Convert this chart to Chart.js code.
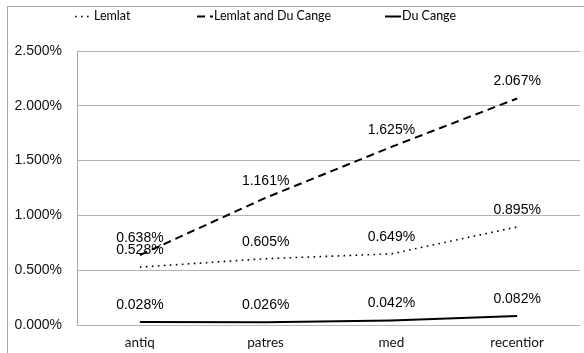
<!DOCTYPE html>
<html>
<head>
<meta charset="utf-8">
<script src="https://cdn.jsdelivr.net/npm/chart.js@4/dist/chart.umd.min.js"></script>
<style>
html,body{margin:0;padding:0;background:#fff;}
#wrap{width:584px;height:353px;position:relative;}
</style>
</head>
<body>
<div id="wrap"><canvas id="c" width="584" height="353"></canvas></div>
<script>
const categories = ["antiq", "patres", "med", "recentior"];
const lemlat = [0.528, 0.605, 0.649, 0.895];
const lemlatDuCange = [0.638, 1.161, 1.625, 2.067];
const duCange = [0.028, 0.026, 0.042, 0.082];
const seriesNames = ["Lemlat", "Lemlat and Du Cange", "Du Cange"];
const yTicks = [0, 0.5, 1.0, 1.5, 2.0, 2.5];

const labelFont = '14px "Liberation Sans", Arial, sans-serif';
const calFont = '12.5px Lato, "Open Sans", sans-serif';

const frame = {
  id: 'frame',
  beforeDraw(chart) {
    const ctx = chart.ctx;
    ctx.save();
    ctx.fillStyle = '#fff';
    ctx.fillRect(0, 0, chart.width, chart.height);
    ctx.strokeStyle = '#a6a6a6';
    ctx.lineWidth = 1;
    ctx.strokeRect(7.5, 6.5, 700, 500);
    ctx.restore();
  }
};

const valueLabels = {
  id: 'valueLabels',
  afterDatasetsDraw(chart) {
    const ctx = chart.ctx;
    ctx.save();
    ctx.font = labelFont;
    ctx.fillStyle = '#000';
    ctx.textAlign = 'center';
    ctx.textBaseline = 'middle';
    chart.data.datasets.forEach((ds, di) => {
      const meta = chart.getDatasetMeta(di);
      meta.data.forEach((pt, i) => {
        ctx.fillText(ds.data[i].toFixed(3) + '%', pt.x, pt.y - 17);
      });
    });
    ctx.restore();
  }
};

const legendStarts = [75, 197, 385];
const customLegend = {
  id: 'customLegend',
  afterDraw(chart) {
    const ctx = chart.ctx;
    ctx.save();
    ctx.font = calFont;
    ctx.fillStyle = '#000';
    ctx.textBaseline = 'middle';
    const y = 16;
    chart.data.datasets.forEach((ds, di) => {
      const x = legendStarts[di];
      ctx.strokeStyle = ds.borderColor;
      ctx.lineWidth = ds.borderWidth;
      ctx.setLineDash(ds.borderDash || []);
      ctx.beginPath();
      ctx.moveTo(x, y + 0.5);
      ctx.lineTo(x + 16, y + 0.5);
      ctx.stroke();
      ctx.setLineDash([]);
      ctx.fillText(ds.label, x + (di === 0 ? 19 : 17), y);
    });
    ctx.restore();
  }
};

new Chart(document.getElementById('c'), {
  type: 'line',
  data: {
    labels: categories,
    datasets: [
      { label: seriesNames[0], data: lemlat, borderColor: '#000', borderWidth: 1.6, borderDash: [1.6, 4.4], pointRadius: 0, tension: 0, fill: false },
      { label: seriesNames[1], data: lemlatDuCange, borderColor: '#000', borderWidth: 2, borderDash: [8, 5], pointRadius: 0, tension: 0, fill: false },
      { label: seriesNames[2], data: duCange, borderColor: '#000', borderWidth: 2, pointRadius: 0, tension: 0, fill: false }
    ]
  },
  options: {
    responsive: false,
    animation: false,
    devicePixelRatio: 1,
    layout: { padding: { top: 51, right: 4, left: 0, bottom: 0 } },
    plugins: { legend: { display: false }, tooltip: { enabled: false } },
    scales: {
      x: {
        offset: true,
        grid: { display: false, drawTicks: false },
        border: { display: false },
        ticks: { font: { family: 'Lato, "Open Sans", sans-serif', size: 13.5 }, color: '#111', padding: 10 },
        afterFit(scale) { scale.height = 28; }
      },
      y: {
        min: 0, max: 2.5,
        afterBuildTicks(scale) { scale.ticks = yTicks.map(v => ({ value: v })); },
        grid: { color: '#b4b4b4', lineWidth: 1, drawTicks: false },
        border: { display: true, color: '#a6a6a6', width: 1 },
        ticks: {
          font: { family: '"Liberation Sans", Arial, sans-serif', size: 14 },
          color: '#111',
          padding: 15,
          callback: v => Number(v).toFixed(3) + '%'
        },
        afterFit(scale) { scale.width = 77; }
      }
    }
  },
  plugins: [frame, valueLabels, customLegend]
});
</script>
</body>
</html>
